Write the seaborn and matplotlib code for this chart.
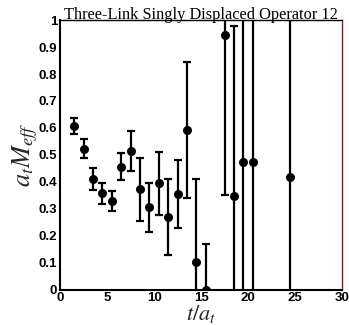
import numpy as np
import pandas as pd
import matplotlib
matplotlib.use("Agg")
import matplotlib.pyplot as plt
import seaborn as sns
from matplotlib.ticker import MultipleLocator

sns.set_theme(style="white")

t = [1.5, 2.5, 3.5, 4.5, 5.5, 6.5, 7.5, 8.5, 9.5, 10.5,
     11.5, 12.5, 13.5, 14.5, 15.5, 17.5, 18.5, 19.5, 20.5, 24.5]
meff = [0.607, 0.523, 0.411, 0.357, 0.329, 0.456, 0.514, 0.372, 0.305, 0.394,
        0.270, 0.354, 0.592, 0.104, 0.000, 0.945, 0.348, 0.474, 0.474, 0.419]
err = [0.028, 0.036, 0.040, 0.038, 0.037, 0.051, 0.075, 0.117, 0.090, 0.118,
       0.142, 0.126, 0.253, 0.306, 0.168, 0.595, 0.632, 0.800, 0.800, 0.900]

df = pd.DataFrame({"t": t, "meff": meff, "err": err})

fig = plt.figure(figsize=(3.49, 3.25), dpi=100)
ax = fig.add_axes([0.172, 0.109, 0.808, 0.829])

ax.errorbar(df["t"], df["meff"], yerr=df["err"], fmt="none", ecolor="black",
            elinewidth=1.6, capsize=3, capthick=1.6, zorder=2)
sns.scatterplot(data=df, x="t", y="meff", ax=ax, color="black", s=42,
                edgecolor="black", linewidth=0, zorder=3, legend=False)

ax.set_xlim(0, 30)
ax.set_ylim(0, 1)
ax.xaxis.set_major_locator(MultipleLocator(5))
ax.xaxis.set_minor_locator(MultipleLocator(1))
ax.yaxis.set_major_locator(MultipleLocator(0.1))
ax.yaxis.set_minor_locator(MultipleLocator(0.02))
ax.set_yticks(np.arange(0, 1.01, 0.1))
ax.set_yticklabels(["0", "0.1", "0.2", "0.3", "0.4", "0.5", "0.6", "0.7", "0.8", "0.9", "1"])
ax.set_xticks([0, 5, 10, 15, 20, 25, 30])
ax.set_xticklabels(["0", "5", "10", "15", "20", "25", "30"])

ax.tick_params(which="major", direction="in", length=6, width=1.2,
               top=False, right=False, labelsize=9.5, pad=2, colors="black")
ax.tick_params(which="minor", direction="in", length=3, width=1.0,
               top=False, right=False)
for lab in ax.get_xticklabels() + ax.get_yticklabels():
    lab.set_fontweight("bold")
    lab.set_fontfamily("Liberation Sans")

for s in ["left", "bottom"]:
    ax.spines[s].set_linewidth(1.5)
    ax.spines[s].set_color("black")
ax.spines["top"].set_linewidth(1.0)
ax.spines["top"].set_color("black")
ax.spines["right"].set_linewidth(1.0)
ax.spines["right"].set_color("#6b2a2a")

ax.set_xlabel(r"$t/a_t$", fontsize=16, labelpad=-1,
              math_fontfamily="stix")
ax.set_ylabel(r"$a_t M_{eff}$", fontsize=19, labelpad=-1,
              math_fontfamily="stix")

ax.text(0.5, 1.004, "Three-Link Singly Displaced Operator 12",
        transform=ax.transAxes, ha="center", va="baseline",
        fontsize=11.8, family="Liberation Serif", color="black")

ax.grid(False)
fig.savefig("out.png", dpi=100)
